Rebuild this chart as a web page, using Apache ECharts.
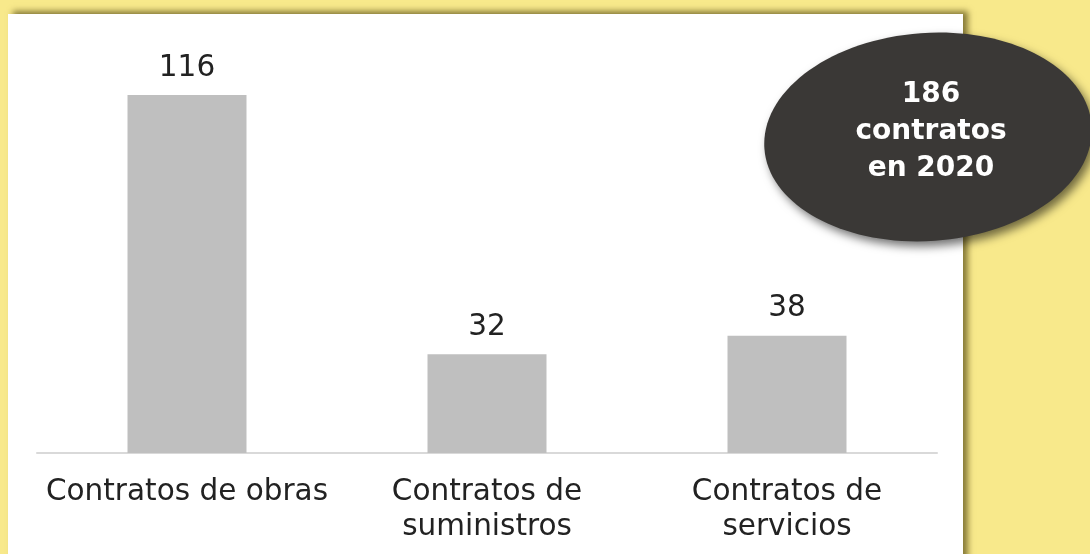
<!DOCTYPE html>
<html>
<head>
  <meta charset="utf-8">
  <title>Contratos 2020</title>
  <script src="https://cdn.jsdelivr.net/npm/echarts@6/dist/echarts.min.js"></script>
  <style>
    html, body { margin: 0; padding: 0; }
  </style>
</head>
<body>
<div id="main" style="width: 1090px; height: 554px;"></div>
<script type="text/javascript">
  // datos
  var categorias = ['Contratos de obras', 'Contratos de\nsuministros', 'Contratos de\nservicios'];
  var contratos = [116, 32, 38];
  var resumen = ['186', 'contratos', 'en 2020'];

  var myChart = echarts.init(document.getElementById('main'));

  var option = {
    backgroundColor: '#F8E98B',
    animation: false,
    grid: { left: 37, right: 153, top: 95, bottom: 101 },
    xAxis: {
      type: 'category',
      data: categorias,
      axisLine: { lineStyle: { color: '#D9D9D9', width: 2 } },
      axisTick: { show: false },
      axisLabel: {
        interval: 0,
        fontFamily: 'DejaVu Sans',
        fontSize: 29.5,
        color: '#222',
        lineHeight: 35,
        margin: 22
      }
    },
    yAxis: {
      type: 'value',
      min: 0,
      max: 116,
      show: false,
      splitLine: { show: false }
    },
    graphic: [
      {
        type: 'rect',
        z: 0,
        shape: { x: 8, y: 14, width: 955, height: 600 },
        style: {
          fill: '#fff',
          shadowBlur: 6,
          shadowOffsetX: 5,
          shadowOffsetY: -3,
          shadowColor: 'rgba(60,50,0,0.6)'
        }
      },
      {
        type: 'ellipse',
        z: 100,
        x: 928,
        y: 137,
        rotation: 0.07,
        shape: { cx: 0, cy: 0, rx: 164, ry: 104 },
        style: {
          fill: '#3A3836',
          shadowBlur: 10,
          shadowOffsetX: 4,
          shadowOffsetY: 5,
          shadowColor: 'rgba(0,0,0,0.55)'
        }
      },
      {
        type: 'text',
        z: 101,
        x: 931,
        y: 132,
        style: {
          text: resumen.join('\n'),
          fill: '#fff',
          font: 'bold 28px "DejaVu Sans"',
          lineHeight: 37,
          align: 'center',
          verticalAlign: 'middle'
        }
      }
    ],
    series: [
      {
        type: 'bar',
        data: contratos,
        barWidth: 119,
        itemStyle: { color: '#BFBFBF' },
        label: {
          show: true,
          position: 'top',
          distance: 12,
          fontFamily: 'DejaVu Sans',
          fontSize: 29.5,
          color: '#222'
        }
      }
    ]
  };

  myChart.setOption(option);
</script>
</body>
</html>
